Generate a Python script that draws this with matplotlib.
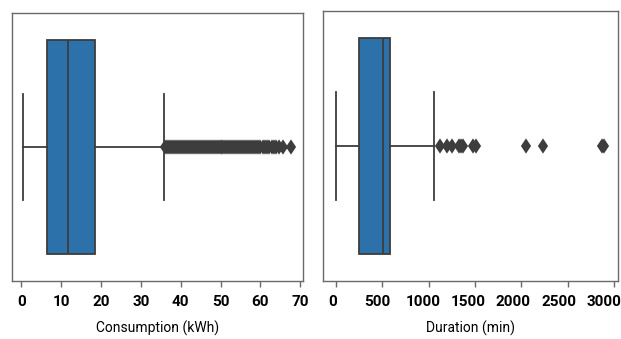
import matplotlib
matplotlib.use("Agg")
import matplotlib.pyplot as plt
from matplotlib.transforms import ScaledTranslation

# ---- data ----
cons_label = "Consumption (kWh)"
cons_q1, cons_med, cons_q3 = 6.3, 11.6, 18.5
cons_whislo, cons_whishi = 0.3, 35.8
cons_fliers = [36.0, 36.5, 37.0, 37.5, 38.0, 38.5, 39.0, 39.5, 40.0, 40.5,
               41.0, 41.5, 42.0, 42.5, 43.0, 43.5, 44.0, 44.5, 45.0, 45.5,
               46.0, 46.5, 47.0, 47.5, 48.0, 48.5, 49.0, 49.5, 50.0, 50.5,
               51.0, 51.5, 52.0, 52.5, 53.0, 53.5, 54.0, 54.5, 55.0, 55.5,
               56.0, 56.5, 57.0, 57.5, 58.0, 58.5, 59.0, 59.5, 60.0, 60.6,
               61.2, 61.8, 62.3, 62.9, 63.4, 64.0, 64.6, 65.6, 67.6]
cons_ticks = [0, 10, 20, 30, 40, 50, 60, 70]

dur_label = "Duration (min)"
dur_q1, dur_med, dur_q3 = 251, 506, 585
dur_whislo, dur_whishi = 5, 1059
dur_fliers = [1127, 1203, 1253, 1329, 1350, 1375, 1480, 1512, 2051, 2238, 2870, 2891]
dur_ticks = [0, 500, 1000, 1500, 2000, 2500, 3000]

W, H = 621, 339
fig = plt.figure(figsize=(W / 100, H / 100), dpi=100)

box_color = "#2d71aa"
line_color = "#3d3d3d"
frame_color = "#6a6a6a"
tick_font = dict(family=["Roboto", "DejaVu Sans"], weight="bold", size=11)
label_font = dict(family=["Roboto", "DejaVu Sans"], size=10)


def make_ax(px):
    x0, x1, y0, y1 = px
    return fig.add_axes([x0 / W, 1 - y1 / H, (x1 - x0) / W, (y1 - y0) / H])


def draw(ax, q1, med, q3, lo, hi, fliers, ticks, label, xlim, shift):
    stats = [dict(q1=q1, med=med, q3=q3, whislo=lo, whishi=hi, fliers=fliers)]
    ax.bxp(stats, positions=[0], widths=0.8, vert=False, patch_artist=True,
           boxprops=dict(facecolor=box_color, edgecolor=line_color, linewidth=1.3),
           medianprops=dict(color=line_color, linewidth=1.3),
           whiskerprops=dict(color=line_color, linewidth=1.3),
           capprops=dict(color=line_color, linewidth=1.3),
           flierprops=dict(marker="d", markerfacecolor=line_color,
                           markeredgecolor=line_color, markersize=6,
                           markeredgewidth=1.3, linestyle="none"),
           capwidths=0.4)
    ax.set_ylim(0.5, -0.5)
    ax.set_xlim(*xlim)
    ax.set_yticks([])
    ax.set_xticks(ticks)
    labels = ax.set_xticklabels([str(t) for t in ticks], **tick_font)
    ax.tick_params(axis="x", length=4, width=1, color=frame_color, pad=6)
    for t, lab in zip(ticks, labels):
        dx = shift[0] + shift[1] * (t / ticks[-1])
        lab.set_transform(lab.get_transform() + ScaledTranslation(dx / 100, 0, fig.dpi_scale_trans))
    ax.set_xlabel(label, labelpad=9, **label_font)
    for s in ax.spines.values():
        s.set_color(frame_color)
        s.set_linewidth(1.0)


ax1 = make_ax((11.7, 303.3, 13.3, 280.7))
draw(ax1, cons_q1, cons_med, cons_q3, cons_whislo, cons_whishi, cons_fliers,
     cons_ticks, cons_label, (-2.46, 70.8), (0, 0))

ax2 = make_ax((323.3, 617.7, 11.0, 280.7))
draw(ax2, dur_q1, dur_med, dur_q3, dur_whislo, dur_whishi, dur_fliers,
     dur_ticks, dur_label, (-134, 3039), (-3.5, -6.5))

fig.savefig("out.png", dpi=100)
